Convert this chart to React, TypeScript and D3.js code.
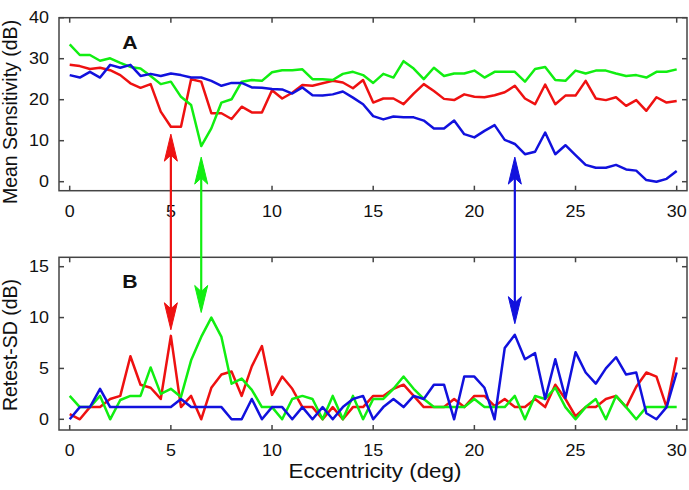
import React from "react";
import * as d3 from "d3";

const ecc: number[] = d3.range(0, 30.01, 0.5);

const topRed = [28.5,28.2,27.5,27.8,27.2,26.0,24.0,22.9,23.8,17.1,13.4,13.4,25.0,24.4,16.7,16.7,15.3,18.3,16.9,16.9,22.3,20.3,21.7,23.6,23.4,24.0,24.6,24.2,22.8,24.8,19.3,20.3,20.3,18.9,21.5,23.8,22.1,20.2,19.9,21.3,20.7,20.6,21.1,21.8,23.4,20.3,18.9,23.7,18.9,21.0,21.0,24.6,20.3,19.9,20.6,18.5,19.9,17.3,20.6,19.3,19.7];
const topGreen = [33.5,30.9,30.9,29.5,30.1,29.0,28.0,27.6,25.8,23.8,24.4,20.7,18.7,8.7,13.0,19.3,20.1,24.4,24.8,24.6,26.7,27.2,27.2,27.4,25.0,25.0,24.8,26.3,26.8,26.0,24.1,26.3,25.4,29.4,27.6,25.0,27.8,25.8,26.4,26.4,27.1,25.4,26.8,26.8,26.8,24.4,27.5,28.0,24.8,24.6,27.1,26.4,27.1,27.1,26.4,25.8,26.0,25.4,26.8,26.8,27.4];
const topBlue = [26.0,25.4,26.8,25.4,28.5,27.8,28.5,25.8,26.3,25.8,26.4,26.0,25.4,25.4,24.6,23.4,24.1,24.1,23.0,22.9,22.6,22.5,21.5,23.0,21.1,21.0,21.3,22.0,20.5,18.9,16.0,15.2,15.9,15.7,15.7,14.9,13.0,13.0,14.9,11.6,10.8,12.4,13.8,10.2,9.2,6.7,7.3,12.0,6.7,8.9,6.5,4.1,3.4,3.4,4.1,3.0,2.7,0.4,0.0,0.7,2.6];

const botRed = [0.5,0,1.2,1.2,2.0,2.3,6.2,3.4,3.1,2.0,8.2,1.2,2.3,0,3.1,4.4,4.7,2.3,5.2,7.2,2.4,4.2,3.0,1.2,1.2,0,1.2,0,1.2,1.2,2.3,2.3,3.0,3.4,2.3,1.2,1.2,1.2,2.0,1.2,2.3,2.3,1.3,2.0,1.2,1.2,2.0,1.2,3.4,2.0,0.3,1.2,1.2,2.0,2.3,1.2,3.2,4.6,4.2,1.2,6.1];
const botGreen = [2.3,1.2,1.2,2.3,0,1.9,2.3,2.3,5.1,2.5,3.0,2.2,5.8,8.1,10.0,8.1,3.5,4.0,2.9,1.2,1.2,0,2.0,2.3,2.0,0,2.3,0,2.3,0,2.0,2.0,3.0,4.2,3.0,2.0,1.2,1.2,1.2,1.2,2.0,1.2,1.2,1.2,2.3,0,2.3,2.0,3.1,1.2,0,1.2,2.0,0,2.3,1.2,0,1.2,1.2,1.2,1.2];
const botBlue = [0,1.2,1.2,3.0,1.2,1.2,1.2,1.2,1.2,1.2,1.2,2.0,1.2,1.2,1.2,1.2,0,0,2.0,0,1.2,1.2,0,1.2,0,1.2,0,1.2,2.0,2.3,0,1.2,2.0,1.2,2.3,2.0,3.4,3.4,0,4.2,4.2,3.1,0,7.0,8.3,5.9,6.5,2.0,5.9,2.1,6.6,4.6,3.5,5.0,6.1,4.4,4.6,0.6,0,1.2,4.6];

const xTicks = [0, 5, 10, 15, 20, 25, 30];
const topYTicks = [0, 10, 20, 30, 40];
const botYTicks = [0, 5, 10, 15];

const arrowX = [5, 6.5, 22];
const arrowTopTip = [11.6, 6.0, 6.0];
const arrowBotTip = [8.8, 10.5, 9.4];

const RED = "#ee1111";
const GREEN = "#11ee11";
const BLUE = "#1111dd";
const seriesColors = [RED, GREEN, BLUE];

const FONT = "Liberation Sans, Arial, sans-serif";
const SX = 1.12;

function HText(props: { x: number; y: number; size: number; anchor?: string; bold?: boolean; dy?: string; children: React.ReactNode }) {
  return (
    <text
      transform={`translate(${props.x},${props.y}) scale(${SX},1)`}
      dy={props.dy}
      textAnchor={props.anchor || "middle"}
      fontSize={props.size}
      fontWeight={props.bold ? "bold" : "normal"}
      fontFamily={FONT}
      fill="#111"
    >
      {props.children}
    </text>
  );
}

export default function App() {
  const left = 59, right = 687;
  const x = d3.scaleLinear().domain([0, 30]).range([69.7, 676.7]);
  const yTop = d3.scaleLinear().domain([0, 40]).range([181.7, 17.7]);
  const yBot = d3.scaleLinear().domain([0, 15]).range([419.3, 266.7]);
  const topFrame = { t: 17.7, b: 190.7 };
  const botFrame = { t: 257.3, b: 430 };
  const tickLen = 5;
  const frameColor = "#444";

  const lineTop = d3.line<number>().x((_, i) => x(ecc[i])).y((d) => yTop(d));
  const lineBot = d3.line<number>().x((_, i) => x(ecc[i])).y((d) => yBot(d));

  const panel = (
    frame: { t: number; b: number },
    y: d3.ScaleLinear<number, number>,
    yTicks: number[],
    key: string
  ) => (
    <g key={key}>
      <rect x={left} y={frame.t} width={right - left} height={frame.b - frame.t} fill="none" stroke={frameColor} strokeWidth={1.5} />
      {xTicks.map((t) => (
        <g key={"x" + t}>
          <line x1={x(t)} x2={x(t)} y1={frame.b} y2={frame.b - tickLen} stroke={frameColor} strokeWidth={1.5} />
          <line x1={x(t)} x2={x(t)} y1={frame.t} y2={frame.t + tickLen} stroke={frameColor} strokeWidth={1.5} />
          <HText x={x(t)} y={frame.b + 26} size={16}>{t}</HText>
        </g>
      ))}
      {yTicks.map((t) => (
        <g key={"y" + t}>
          <line x1={left} x2={left + tickLen} y1={y(t)} y2={y(t)} stroke={frameColor} strokeWidth={1.5} />
          <line x1={right} x2={right - tickLen} y1={y(t)} y2={y(t)} stroke={frameColor} strokeWidth={1.5} />
          <HText x={49} y={y(t)} dy="0.36em" anchor="end" size={16}>{t}</HText>
        </g>
      ))}
    </g>
  );

  const head = (cx: number, cy: number, dir: number, color: string, k: string) => {
    const L = 27, W = 6.5, N = 21;
    const pts = [
      [cx, cy],
      [cx + W, cy - dir * L],
      [cx, cy - dir * N],
      [cx - W, cy - dir * L],
    ];
    return <polygon key={k} points={pts.map((p) => p.join(",")).join(" ")} fill={color} stroke={color} strokeWidth={1} />;
  };

  return (
    <svg width={689} height={490} style={{ position: "absolute", left: 0, top: 0, background: "#fff" }}>
      <rect width={689} height={490} fill="#fff" />
      {panel(topFrame, yTop, topYTicks, "top")}
      {panel(botFrame, yBot, botYTicks, "bot")}

      {[topRed, topGreen, topBlue].map((s, i) => (
        <path key={"t" + i} d={lineTop(s) || ""} fill="none" stroke={seriesColors[i]} strokeWidth={2.5} strokeLinejoin="round" />
      ))}
      {[botRed, botGreen, botBlue].map((s, i) => (
        <path key={"b" + i} d={lineBot(s) || ""} fill="none" stroke={seriesColors[i]} strokeWidth={2.5} strokeLinejoin="round" />
      ))}

      {arrowX.map((ax, i) => {
        const cx = x(ax);
        const y1 = yTop(arrowTopTip[i]);
        const y2 = yBot(arrowBotTip[i]);
        return (
          <g key={"a" + i}>
            <line x1={cx} x2={cx} y1={y1 + 15} y2={y2 - 15} stroke={seriesColors[i]} strokeWidth={2.2} />
            {head(cx, y1, -1, seriesColors[i], "u" + i)}
            {head(cx, y2, 1, seriesColors[i], "d" + i)}
          </g>
        );
      })}

      <HText x={130} y={48.5} size={19} bold>A</HText>
      <HText x={130} y={288} size={19} bold>B</HText>

      <HText x={375} y={478} size={20}>Eccentricity (deg)</HText>
      <text transform="translate(17,112) rotate(-90)" textAnchor="middle" fontSize={19.5} fontFamily={FONT} fill="#111">Mean Sensitivity (dB)</text>
      <text transform="translate(17,345) rotate(-90)" textAnchor="middle" fontSize={19.5} fontFamily={FONT} fill="#111">Retest-SD (dB)</text>
    </svg>
  );
}
